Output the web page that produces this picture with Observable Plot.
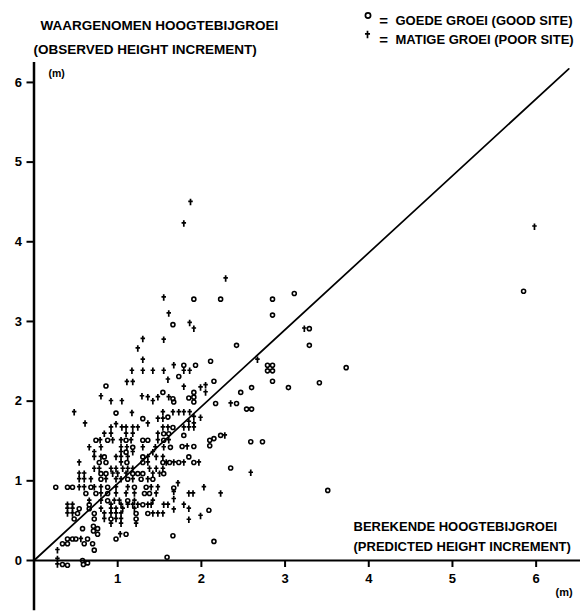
<!DOCTYPE html>
<html><head><meta charset="utf-8">
<script src="https://cdn.jsdelivr.net/npm/d3@7"></script>
<script src="https://cdn.jsdelivr.net/npm/@observablehq/plot@0.6"></script>
<style>body{margin:0;background:#fff;}</style>
</head><body><div id="chart"></div>
<script>
// good site (circles): [predicted, observed] in m
const goodSite = [
[1.66,2.96],[0.86,2.19],[1.54,2.11],[1.66,2.03],[0.98,1.85],[1.30,1.78],[1.60,1.80],[1.66,1.67],
[1.91,3.28],[2.23,3.28],[2.85,3.28],[3.11,3.35],
[2.85,3.08],[3.29,2.91],[3.29,2.70],[2.42,2.70],[1.79,2.45],[1.93,2.45],[2.11,2.50],[1.73,2.31],[2.79,2.45],[2.85,2.45],[2.79,2.38],[2.85,2.38],[2.85,2.25],[3.04,2.17],[2.60,2.17],[2.47,2.11],[2.15,2.25],[1.91,2.11],[1.91,2.05],[1.85,2.04],[1.91,1.99],[1.67,1.99],[2.17,1.97],[2.42,1.97],[2.54,1.90],[2.60,1.90],
[3.73,2.42],[3.41,2.23],[5.85,3.38],[3.51,0.88],[2.09,0.63],[1.66,0.31],[2.15,0.24],[1.59,0.04],
[1.79,1.57],[1.77,1.43],[1.91,1.43],[2.10,1.51],[2.10,1.44],[2.15,1.53],[2.23,1.57],[2.59,1.49],[2.73,1.49],[1.73,1.23],[1.85,1.30],[1.91,1.23],[2.35,1.16],[1.67,0.91],
[1.55,1.59],[1.61,1.59],
[0.74,1.51],[0.88,1.51],[1.10,1.51],[1.30,1.51],[1.36,1.51],[1.55,1.51],
[1.18,1.42],[1.63,1.42],[1.10,1.36],[0.84,1.30],[1.30,1.30],
[0.78,1.23],[0.86,1.23],[1.11,1.23],[1.30,1.23],[1.54,1.23],[1.62,1.23],
[0.80,1.09],[0.86,1.09],[1.18,1.09],[1.24,1.09],[1.30,1.09],[1.55,1.09],
[0.80,1.02],[1.12,1.02],[1.28,1.02],[1.42,1.02],
[0.26,0.92],[0.40,0.92],[0.46,0.92],[0.68,0.92],[0.88,0.92],[1.20,0.92],[1.34,0.92],
[0.62,0.84],[0.74,0.84],[0.88,0.84],[1.32,0.84],[1.38,0.84],
[0.88,0.75],[1.12,0.75],[0.66,0.70],[1.30,0.70],[0.54,0.65],[0.66,0.65],
[0.52,0.59],[0.72,0.59],[1.22,0.59],[1.36,0.59],
[0.48,0.52],[0.72,0.52],[0.92,0.52],[1.22,0.52],
[0.58,0.40],[0.71,0.43],[0.71,0.37],[0.76,0.40],[0.76,0.33],[1.10,0.33],
[0.40,0.27],[0.46,0.27],[0.50,0.27],[0.64,0.27],[0.98,0.27],
[0.34,0.21],[0.40,0.21],[0.60,0.21],[0.70,0.21],[0.72,0.13],[0.58,0.0],
[0.34,-0.05],[0.40,-0.06],[0.59,-0.05],[0.64,-0.03]
];
// poor site (crosses)
const poorSite = [
[1.55,3.30],[1.61,3.10],[1.30,2.78],[1.55,2.77],[1.24,2.66],[1.30,2.52],[1.67,2.45],[1.17,2.38],[1.30,2.38],[1.42,2.38],[1.55,2.38],[1.11,2.24],[1.18,2.24],[1.60,2.27],[0.80,2.06],[0.92,2.00],[1.05,2.00],[1.29,2.06],[1.36,2.05],[1.42,2.00],[1.48,2.05],[1.61,2.05],[0.48,1.86],[0.61,1.72],[0.98,1.71],[1.17,1.85],[1.36,1.72],[1.48,1.78],[1.54,1.78],[1.54,1.86],[1.66,1.86],[0.92,1.67],[1.05,1.67],[1.10,1.67],[1.18,1.67],[1.24,1.67],[1.54,1.67],[1.60,1.67],
[1.86,2.98],[1.91,2.91],[3.23,2.91],[2.67,2.52],[1.79,2.38],[1.86,2.38],[1.79,2.18],[1.99,2.17],[2.05,2.20],[2.05,2.11],[2.35,1.97],[1.73,1.86],[1.79,1.86],[1.86,1.86],[1.91,1.80],[1.99,1.79],[1.85,1.74],[1.91,1.72],[1.79,1.67],[1.85,1.67],[1.91,1.67],
[1.87,4.50],[1.79,4.23],[2.29,3.54],[5.98,4.19],
[2.03,0.92],[2.23,0.84],[1.85,0.84],[1.90,0.84],[1.99,0.56],[1.85,0.51],[1.67,1.23],[1.79,1.23],[1.97,1.23],[2.28,1.57],[1.83,1.43],[2.59,1.10],[1.72,0.97],[1.67,0.86],[1.67,0.77],[1.79,0.70],[1.85,0.65],[1.67,0.64],
[0.84,1.59],[0.92,1.59],[1.10,1.59],[1.18,1.59],[1.48,1.59],
[0.79,1.51],[0.94,1.51],[1.04,1.51],[1.16,1.51],[1.48,1.51],[1.61,1.51],
[0.66,1.42],[0.80,1.42],[1.04,1.42],[1.11,1.42],[1.30,1.42],[1.45,1.42],[1.55,1.42],
[0.72,1.36],[1.04,1.36],[1.18,1.36],[1.42,1.36],
[0.72,1.30],[0.80,1.30],[0.98,1.30],[1.04,1.30],[1.12,1.30],[1.36,1.30],[1.46,1.30],[1.54,1.30],
[0.54,1.23],[1.04,1.23],[1.36,1.23],[1.58,1.23],
[0.72,1.15],[0.78,1.15],[0.92,1.15],[0.98,1.15],[1.06,1.15],[1.12,1.15],[1.18,1.15],[1.38,1.15],[1.46,1.15],[1.54,1.15],
[0.54,1.09],[0.60,1.09],[0.94,1.09],[1.00,1.09],[1.10,1.09],[1.42,1.09],[1.50,1.09],
[0.54,1.02],[0.60,1.02],[0.68,1.02],[0.86,1.02],[0.98,1.02],[1.04,1.02],[1.18,1.02],[1.36,1.02],
[0.54,0.92],[0.60,0.92],[0.72,0.92],[0.80,0.92],[0.98,0.92],[1.12,0.92],[1.40,0.92],[1.48,0.92],
[0.80,0.84],[0.98,0.84],[1.10,0.84],[1.20,0.84],[1.46,0.84],
[0.66,0.75],[0.80,0.75],[0.96,0.75],[1.02,0.75],[1.20,0.75],[1.42,0.75],
[0.40,0.70],[0.46,0.70],[0.92,0.70],[1.04,0.70],[1.12,0.70],[1.18,0.70],[1.24,0.70],[1.36,0.70],[1.40,0.70],[1.55,0.70],[1.60,0.70],
[0.40,0.65],[0.46,0.65],[0.80,0.65],[0.92,0.65],[0.98,0.65],[1.06,0.65],[1.20,0.65],
[0.40,0.59],[0.46,0.59],[0.84,0.59],[0.92,0.59],[0.98,0.59],[1.04,0.59],[1.42,0.59],[1.48,0.59],[1.54,0.59],
[0.84,0.52],[0.98,0.52],[1.04,0.52],[0.92,0.46],[1.04,0.46],[1.22,0.46],
[1.03,0.33],[0.56,0.27],[0.28,0.13],[0.28,0.02],[0.28,-0.05]
];
const refLine = [[0,0],[6.39,6.17]];
const xTicks = [1,2,3,4,5,6];
const yTicks = [0,1,2,3,4,5,6];
const yTitle = ["WAARGENOMEN HOOGTEBIJGROEI", "(OBSERVED HEIGHT INCREMENT)"];
const xTitle = ["BEREKENDE HOOGTEBIJGROEI", "(PREDICTED HEIGHT INCREMENT)"];
const legendLabels = ["GOEDE GROEI (GOOD SITE)", "MATIGE GROEI (POOR SITE)"];
const unit = "(m)";

const font = "'Liberation Sans', Arial, Helvetica, sans-serif";
const dagger = {
  draw(ctx, size) {
    const r = Math.sqrt(size / Math.PI);
    ctx.moveTo(0, -r * 1.3); ctx.lineTo(0, r * 1.3);
    ctx.moveTo(-r * 0.9, -r * 0.25); ctx.lineTo(r * 0.9, -r * 0.25);
  }
};
const T = (txt, dx, dy, o = {}) => Plot.text([txt], {text: d => d, frameAnchor: "top-left", dx, dy, textAnchor: "start", fontSize: 13.5, fontWeight: "bold", fill: "black", ...o});

const chart = Plot.plot({
  width: 581, height: 614,
  marginLeft: 33.5, marginRight: 1, marginTop: 62, marginBottom: 54,
  x: {domain: [0, 6.53], axis: null},
  y: {domain: [0, 6.25], axis: null},
  style: {fontFamily: font, background: "white", color: "black"},
  marks: [
    Plot.ruleX([0], {y1: -0.63, y2: 6.25, strokeWidth: 2.5}),
    Plot.ruleY([0], {x1: 0, x2: 6.53, strokeWidth: 2}),
    Plot.axisX(xTicks, {anchor: "bottom", tickSize: 7, tickPadding: 6, fontSize: 13, fontWeight: "bold", strokeWidth: 2, tickFormat: d => String(d), label: null}),
    Plot.axisY(yTicks, {anchor: "left", tickSize: 7, tickPadding: 5, fontSize: 13, fontWeight: "bold", strokeWidth: 2, tickFormat: d => String(d), label: null}),
    Plot.line(refLine, {x: d => d[0], y: d => d[1], strokeWidth: 1.7, stroke: "black"}),
    Plot.dot(goodSite, {x: d => d[0], y: d => d[1], r: 2, stroke: "black", strokeWidth: 1.6, fill: "none"}),
    Plot.dot(poorSite, {x: d => d[0], y: d => d[1], r: 2.5, symbol: dagger, stroke: "black", strokeWidth: 1.7, fill: "none"}),
    T(yTitle[0], 6.5, -42),
    T(yTitle[1], -0.5, -18),
    T(unit, 14.5, 7, {fontSize: 10.5}),
    T(xTitle[0], 319.5, 459, {fontSize: 13}),
    T(xTitle[1], 319.5, 479, {fontSize: 13}),
    T(unit, 521.5, 526, {fontSize: 11}),
    Plot.dot([0], {frameAnchor: "top-left", dx: 334, dy: -47, r: 2.6, stroke: "black", strokeWidth: 1.7, fill: "none"}),
    Plot.dot([0], {frameAnchor: "top-left", dx: 333.5, dy: -28, r: 2.8, symbol: dagger, stroke: "black", strokeWidth: 1.7, fill: "none"}),
    T("=", 349.5, -47, {textAnchor: "middle", fontSize: 15}),
    T("=", 349.5, -28, {textAnchor: "middle", fontSize: 15}),
    T(legendLabels[0], 361.5, -47, {fontSize: 13}),
    T(legendLabels[1], 361.5, -28, {fontSize: 13})
  ]
});
document.getElementById("chart").append(chart);
</script>
</body></html>
